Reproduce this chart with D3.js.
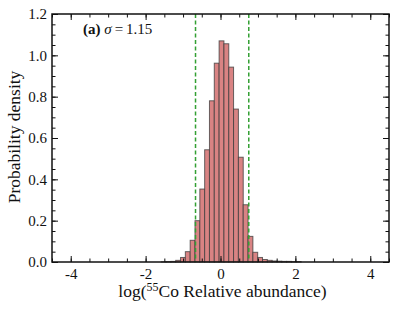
<!DOCTYPE html>
<html>
<head>
<meta charset="utf-8">
<script src="https://cdn.jsdelivr.net/npm/d3@7"></script>
<style>
  body { margin: 0; background: #fff; }
  text { font-family: "Liberation Serif", "Times New Roman", serif; fill: #111; }
</style>
</head>
<body>
<div id="chart"></div>
<script>
const binEdges = [-1.583, -1.454, -1.325, -1.196, -1.067, -0.939, -0.810, -0.681, -0.552, -0.423,
                  -0.295, -0.166, -0.037, 0.092, 0.221, 0.349, 0.478, 0.607, 0.736, 0.865,
                  0.993, 1.122, 1.251, 1.380, 1.509, 1.637, 1.766, 1.895, 2.024, 2.153];
const density = [0.001, 0.002, 0.003, 0.008, 0.022, 0.050, 0.105, 0.200, 0.353, 0.543,
                 0.780, 0.962, 1.070, 1.056, 0.943, 0.740, 0.507, 0.277, 0.124, 0.047,
                 0.022, 0.012, 0.008, 0.005, 0.004, 0.003, 0.003, 0.002, 0.002];
const boundLines = [-0.667, 0.755];
const xTicks = [-4, -2, 0, 2, 4];
const yTicks = [0.0, 0.2, 0.4, 0.6, 0.8, 1.0, 1.2];

const width = 397, height = 313;
const margin = { top: 14, right: 8, bottom: 51, left: 52 };
const w = width - margin.left - margin.right;
const h = height - margin.top - margin.bottom;

const svg = d3.select("#chart").append("svg")
    .attr("width", width)
    .attr("height", height)
    .append("g")
    .attr("transform", `translate(${margin.left},${margin.top})`);

const x = d3.scaleLinear().domain([-4.5, 4.5]).range([0, w]);
const y = d3.scaleLinear().domain([0, 1.2]).range([h, 0]);

const bins = density.map((d, i) => ({ x0: binEdges[i], x1: binEdges[i + 1], v: d }));

// Barras del histograma
svg.selectAll(".bar")
    .data(bins).enter().append("rect")
    .attr("class", "bar")
    .attr("x", d => x(d.x0))
    .attr("y", d => y(d.v))
    .attr("width", d => x(d.x1) - x(d.x0))
    .attr("height", d => h - y(d.v))
    .attr("fill", "#d98383")
    .attr("stroke", "#3a3a3a")
    .attr("stroke-opacity", 0.75)
    .attr("stroke-width", 1);

// Líneas verticales discontinuas
svg.selectAll(".bound")
    .data(boundLines).enter().append("line")
    .attr("x1", d => x(d)).attr("x2", d => x(d))
    .attr("y1", 0).attr("y2", h)
    .attr("stroke", "#33a033")
    .attr("stroke-width", 1.5)
    .attr("stroke-dasharray", "4,2.5");

// Ejes con ticks hacia dentro en los cuatro lados
const xMinor = d3.range(-4.5, 4.51, 0.5);
const yMinor = d3.range(0, 1.201, 0.05);

function tickAxis(axis, scale, ticks, size, labels) {
    return axis(scale).tickValues(ticks).tickSizeInner(-size).tickSizeOuter(0)
        .tickPadding(size + 5).tickFormat(labels ? null : "");
}

svg.append("g").attr("transform", `translate(0,${h})`)
    .call(tickAxis(d3.axisBottom, x, xMinor, 3.5, false));
const gx = svg.append("g").attr("transform", `translate(0,${h})`)
    .call(tickAxis(d3.axisBottom, x, xTicks, 6, true).tickFormat(d => String(d)));
svg.append("g").call(tickAxis(d3.axisTop, x, xMinor, 3.5, false));
svg.append("g").call(tickAxis(d3.axisTop, x, xTicks, 6, false));

svg.append("g").call(tickAxis(d3.axisLeft, y, yMinor, 3.5, false));
const gy = svg.append("g")
    .call(tickAxis(d3.axisLeft, y, yTicks, 6, true).tickFormat(d3.format(".1f")));
svg.append("g").attr("transform", `translate(${w},0)`).call(tickAxis(d3.axisRight, y, yMinor, 3.5, false));
svg.append("g").attr("transform", `translate(${w},0)`).call(tickAxis(d3.axisRight, y, yTicks, 6, false));

svg.selectAll(".domain").remove();
svg.selectAll(".tick line").attr("stroke", "#111").attr("stroke-width", 1);

gx.selectAll("text").style("font-size", "15px").attr("dy", "0.75em").attr("y", 6);
gy.selectAll("text").style("font-size", "15px").attr("x", -5);

// Marco
svg.append("rect")
    .attr("width", w).attr("height", h)
    .attr("fill", "none")
    .attr("stroke", "#111")
    .attr("stroke-width", 1.5);

// Títulos de ejes
const xl = svg.append("text")
    .attr("text-anchor", "middle")
    .attr("x", w / 2 + 2)
    .attr("y", h + 35)
    .style("font-size", "17.5px");
xl.append("tspan").text("log(");
xl.append("tspan").attr("dy", -6).style("font-size", "12px").text("55");
xl.append("tspan").attr("dy", 6).text("Co Relative abundance)");

svg.append("text")
    .attr("text-anchor", "middle")
    .attr("transform", "rotate(-90)")
    .attr("x", -h / 2 + 1)
    .attr("y", -margin.left + 20)
    .style("font-size", "17.5px")
    .text("Probability density");

// Anotación del panel
const ann = svg.append("text")
    .attr("x", 31)
    .attr("y", 20)
    .style("font-size", "15px");
ann.append("tspan").style("font-weight", "bold").text("(a) ");
ann.append("tspan").style("font-style", "italic").text("σ");
ann.append("tspan").text("\u2009=\u20091.15");
</script>
</body>
</html>
